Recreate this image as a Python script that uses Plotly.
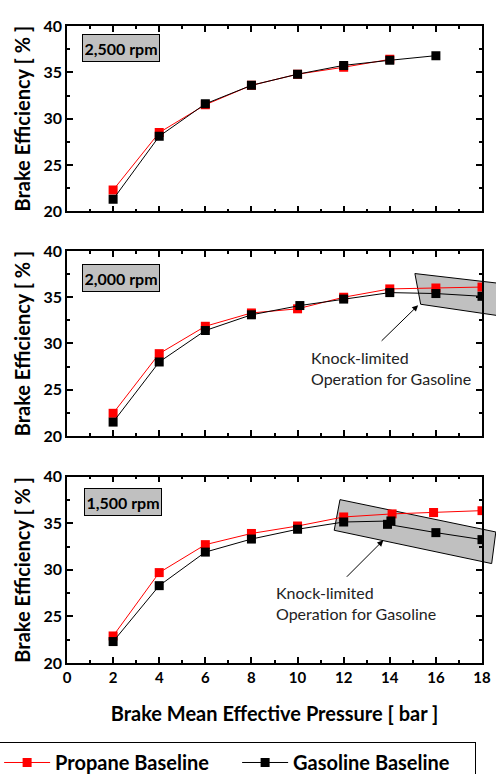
import plotly.graph_objects as go

# ---------------- data ----------------
bmep = [2, 4, 6, 8, 10, 12, 14, 16, 18]

prop_2500_x = [2, 4, 6, 8, 10, 12, 14]
prop_2500 = [22.3, 28.5, 31.5, 33.6, 34.8, 35.55, 36.4]
gas_2500_x = [2, 4, 6, 8, 10, 12, 14, 16]
gas_2500 = [21.3, 28.1, 31.6, 33.6, 34.8, 35.75, 36.3, 36.8]

prop_2000_x = bmep
prop_2000 = [22.45, 28.9, 31.86, 33.3, 33.75, 35.0, 35.9, 36.0, 36.1]
gas_2000_x = [2, 4, 6, 8, 10.1, 12, 14, 16, 18]
gas_2000 = [21.5, 28.0, 31.4, 33.1, 34.1, 34.8, 35.5, 35.4, 35.1]

prop_1500_x = [2, 4, 6, 8, 10, 12, 14.1, 15.9, 18]
prop_1500 = [22.9, 29.7, 32.7, 33.9, 34.7, 35.67, 36.0, 36.14, 36.35]
gas_1500_x = [2, 4, 6, 8, 10, 12, 14.05, 13.9, 16, 18]
gas_1500 = [22.3, 28.3, 31.9, 33.3, 34.35, 35.13, 35.24, 34.88, 33.99, 33.24]

panel_labels = ["2,500 rpm", "2,000 rpm", "1,500 rpm"]
series_names = ["Propane Baseline", "Gasoline Baseline"]
x_ticks = [0, 2, 4, 6, 8, 10, 12, 14, 16, 18]
y_ticks = [20, 25, 30, 35, 40]

# knock-limited regions (corners in data units of each panel)
knock_2000 = [(15.09, 37.56), (15.34, 34.24), (19.0, 32.9), (19.0, 36.43)]
knock_1500 = [(11.84, 37.53), (11.59, 34.24), (18.42, 30.67), (18.6, 34.06)]

RED = "#ff0000"
BLACK = "#000000"
FONT = "Lato"
XR = [0, 18]
YR = [20, 40]

fig = go.Figure()

panels = [
    (prop_2500_x, prop_2500, gas_2500_x, gas_2500),
    (prop_2000_x, prop_2000, gas_2000_x, gas_2000),
    (prop_1500_x, prop_1500, gas_1500_x, gas_1500),
]
for i, (px_, py_, gx_, gy_) in enumerate(panels):
    xa = "x" if i == 0 else f"x{i+1}"
    ya = "y" if i == 0 else f"y{i+1}"
    fig.add_trace(go.Scatter(x=px_, y=py_, mode="lines+markers", name=series_names[0],
                             line=dict(color=RED, width=1),
                             marker=dict(symbol="square", size=9, color=RED),
                             xaxis=xa, yaxis=ya, showlegend=(i == 0), legendrank=1))
    fig.add_trace(go.Scatter(x=gx_, y=gy_, mode="lines+markers", name=series_names[1],
                             line=dict(color=BLACK, width=1),
                             marker=dict(symbol="square", size=9, color=BLACK),
                             xaxis=xa, yaxis=ya, showlegend=(i == 0), legendrank=2))

domains = [[0.709, 1.0], [0.3564, 0.6468], [0.0, 0.2926]]
axis_common = dict(showline=True, linecolor="black", linewidth=1.5, mirror="ticks",
                   ticks="inside", ticklen=6, tickwidth=1.5, tickcolor="black",
                   showgrid=False, zeroline=False, automargin=False)
layout_axes = {}
for i in range(3):
    sx = "" if i == 0 else str(i + 1)
    layout_axes[f"xaxis{sx}"] = dict(axis_common, range=XR, tickvals=x_ticks,
                                     minor=dict(dtick=1, ticks="inside", ticklen=3,
                                                tickwidth=1.5, tickcolor="black"),
                                     showticklabels=(i == 2),
                                     tickfont=dict(family=FONT, size=15, color="black", weight="bold"),
                                     anchor=f"y{sx}",
                                     matches=None if i == 0 else "x")
    layout_axes[f"yaxis{sx}"] = dict(axis_common, range=YR, tickvals=y_ticks,
                                     minor=dict(dtick=2.5, ticks="inside", ticklen=3,
                                                tickwidth=1.5, tickcolor="black"),
                                     tickfont=dict(family=FONT, size=16, color="black", weight="bold"),
                                     domain=domains[i], anchor=f"x{sx}",
                                     title=dict(text="Brake Efficiency [ % ]", standoff=7,
                                                font=dict(family=FONT, size=20, color="black",
                                                          weight="bold")))
layout_axes["xaxis3"]["title"] = dict(text="Brake Mean Effective Pressure [ bar ]", standoff=22,
                                      font=dict(family=FONT, size=20, color="black", weight="bold"))


def to_dom(pt):
    return ((pt[0] - XR[0]) / (XR[1] - XR[0]), (pt[1] - YR[0]) / (YR[1] - YR[0]))


shapes = []
for idx, corners in [(2, knock_2000), (3, knock_1500)]:
    pts = [to_dom(c) for c in corners]
    path = "M " + " L ".join(f"{a:.4f},{b:.4f}" for a, b in pts) + " Z"
    shapes.append(dict(type="path", path=path, xref=f"x{idx} domain", yref=f"y{idx} domain",
                       fillcolor="#c0c0c0", line=dict(color="black", width=1), layer="below"))

annotations = []
label_pos = [(0.0354, 0.959), (0.0354, 0.932), (0.041, 0.939)]
for i, lab in enumerate(panel_labels):
    sx = "" if i == 0 else str(i + 1)
    annotations.append(dict(text=lab, xref=f"x{sx} domain", yref=f"y{sx} domain",
                            x=label_pos[i][0], y=label_pos[i][1], xanchor="left", yanchor="top",
                            showarrow=False, bgcolor="#c0c0c0", bordercolor="black",
                            borderwidth=1, borderpad=2, width=72, height=22,
                            font=dict(family=FONT, size=16, color="black", weight="bold")))

for idx, head, tail_off, txt in [(2, (15.23, 34.13), (-38, 37), (10.49, 27.37)),
                                  (3, (13.72, 33.17), (-38, 38), (8.99, 26.46))]:
    annotations.append(dict(x=head[0], y=head[1], xref=f"x{idx}", yref=f"y{idx}",
                            ax=tail_off[0], ay=tail_off[1], showarrow=True, text="",
                            arrowhead=2, arrowsize=1.2, arrowwidth=1, arrowcolor="black"))
    annotations.append(dict(x=txt[0], y=txt[1], xref=f"x{idx}", yref=f"y{idx}",
                            text="Knock-limited<br>Operation for Gasoline", showarrow=False,
                            xanchor="left", yanchor="middle", align="left",
                            font=dict(family=FONT, size=16, color="#222222")))

fig.update_layout(
    width=496, height=774,
    margin=dict(l=67, r=14, t=26, b=111, autoexpand=False),
    paper_bgcolor="white", plot_bgcolor="white",
    showlegend=True,
    legend=dict(orientation="h", x=-0.166, y=-0.124, xanchor="left", yanchor="top",
                bordercolor="black", borderwidth=1, bgcolor="white",
                font=dict(family=FONT, size=20, color="black", weight="bold"),
                itemwidth=46, tracegroupgap=0, traceorder="normal",
                entrywidth=177, entrywidthmode="pixels"),
    shapes=shapes, annotations=annotations,
    **layout_axes,
)

fig.write_html("out.html")
